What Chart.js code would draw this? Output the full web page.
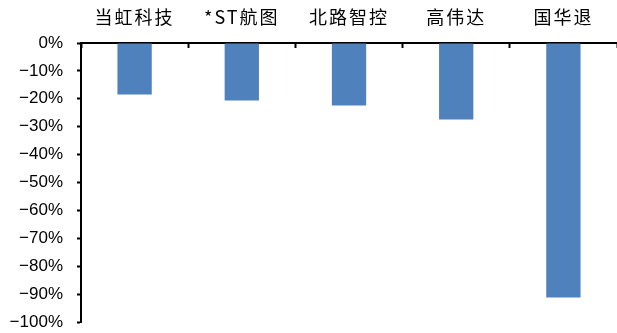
<!DOCTYPE html>
<html>
<head>
<meta charset="utf-8">
<script src="https://cdn.jsdelivr.net/npm/chart.js@4"></script>
<style>
  html, body { margin: 0; padding: 0; background: #fff; }
  #wrap { width: 617px; height: 333px; }
</style>
</head>
<body>
<div id="wrap"><canvas id="drawdownChart"></canvas></div>
<script>
// --- data ---
const companies = ['当虹科技', '*ST航图', '北路智控', '高伟达', '国华退'];
const changePct = [-18.5, -20.6, -22.4, -27.4, -91.2];
const yTicks = [0, -10, -20, -30, -40, -50, -60, -70, -80, -90, -100];

// x labels get a bit of letter spacing (drawn after datasets, z: 1)
const labelSpacing = {
    id: 'labelSpacing',
    afterDatasetsDraw(chart) { chart.ctx.letterSpacing = '2px'; },
    afterDraw(chart) { chart.ctx.letterSpacing = '0px'; }
};

const ctx = document.getElementById('drawdownChart').getContext('2d');
new Chart(ctx, {
    type: 'bar',
    data: {
        labels: companies,
        datasets: [{
            data: changePct,
            backgroundColor: '#4F81BD',
            borderWidth: 0,
            barPercentage: 0.32,
            categoryPercentage: 1
        }]
    },
    options: {
        responsive: true,
        maintainAspectRatio: false,
        animation: false,
        layout: { padding: { left: 0, right: 0, top: 0, bottom: 11 } },
        plugins: {
            legend: { display: false },
            tooltip: { enabled: false }
        },
        scales: {
            x: {
                position: 'top',
                offset: true,
                grid: {
                    offset: true,
                    drawOnChartArea: false,
                    drawTicks: true,
                    tickLength: -5,
                    tickWidth: 2,
                    color: '#000'
                },
                border: { display: true, color: '#000', width: 2 },
                ticks: {
                    z: 1,
                    padding: 20,
                    color: '#000',
                    font: { family: '"Noto Sans CJK SC", sans-serif', size: 18 }
                },
                afterFit: (scale) => { scale.height = 43; }
            },
            y: {
                min: -100,
                max: 0,
                afterBuildTicks: (scale) => { scale.ticks = yTicks.map(v => ({ value: v })); },
                grid: {
                    drawOnChartArea: false,
                    drawTicks: true,
                    tickLength: 4,
                    tickWidth: 2,
                    color: '#000'
                },
                border: { display: true, color: '#000', width: 2 },
                ticks: {
                    padding: 14,
                    color: '#000',
                    font: { family: '"Liberation Sans", Arial, sans-serif', size: 17 },
                    callback: (v) => (v < 0 ? '\u2212' + Math.abs(v) : v) + '%'
                },
                afterFit: (scale) => {
                    scale.width = 81;
                    // don't let the label padding shrink the plot
                    scale.paddingTop = 0;
                    scale.paddingBottom = 0;
                }
            }
        }
    },
    plugins: [labelSpacing]
});
</script>
</body>
</html>
